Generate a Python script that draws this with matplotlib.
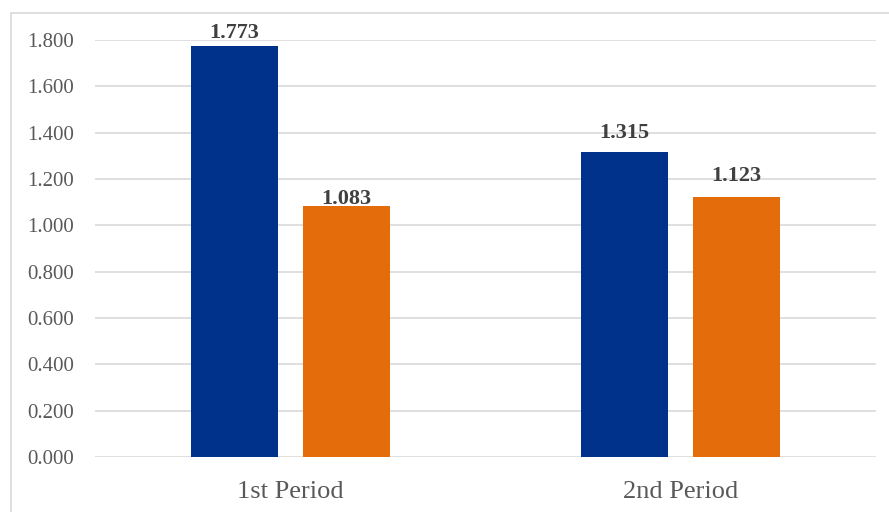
import matplotlib.pyplot as plt
from matplotlib.patches import Rectangle
import numpy as np

periods = ["1st Period", "2nd Period"]
series_a = [1.773, 1.315]
series_b = [1.083, 1.123]
yticks = [0.0, 0.2, 0.4, 0.6, 0.8, 1.0, 1.2, 1.4, 1.6, 1.8]

plt.rcParams["font.family"] = ["Liberation Serif", "DejaVu Serif"]

fig = plt.figure(figsize=(8.89, 5.12), dpi=100)
ax = fig.add_axes([95 / 889, 1 - 457 / 512, 781 / 889, 417 / 512])

# light frame around the chart area
fig.patches.append(Rectangle((11 / 889, -0.1), 1.2, 1 - 13 / 512 + 0.1,
                             transform=fig.transFigure, fill=False,
                             edgecolor="#d9d9d9", linewidth=1.2))

x = np.arange(len(periods))
w = 0.223
off = 0.1435
b1 = ax.bar(x - off, series_a, w, color="#00318b", zorder=3)
b2 = ax.bar(x + off, series_b, w, color="#e46c0b", zorder=3)

# label gaps above each bar (points), labels were nudged by hand
gaps_a = [2.0, 7.0]
gaps_b = [-2.0, 8.0]
for bars, vals, gaps in [(b1, series_a, gaps_a), (b2, series_b, gaps_b)]:
    for r, v, g in zip(bars, vals, gaps):
        ax.annotate("{:.3f}".format(v), (r.get_x() + r.get_width() / 2, v),
                    xytext=(0, g), textcoords="offset points",
                    ha="center", va="bottom", fontsize=16,
                    fontweight="bold", color="#404040", annotation_clip=False,
                    zorder=4)

ax.set_xlim(-0.5, 1.5)
ax.set_ylim(0, 1.8)
ax.set_yticks(yticks)
ax.set_yticklabels(["{:.3f}".format(t) for t in yticks], fontsize=15, color="#595959")
ax.set_xticks(x)
ax.set_xticklabels(periods, fontsize=19, color="#595959")
ax.tick_params(length=0)
ax.tick_params(axis="x", pad=17)
ax.tick_params(axis="y", pad=15)
ax.yaxis.grid(True, color="#d9d9d9", linewidth=1.2, zorder=0)
ax.set_axisbelow(True)
for s in ax.spines.values():
    s.set_visible(False)

plt.savefig("out.png")
